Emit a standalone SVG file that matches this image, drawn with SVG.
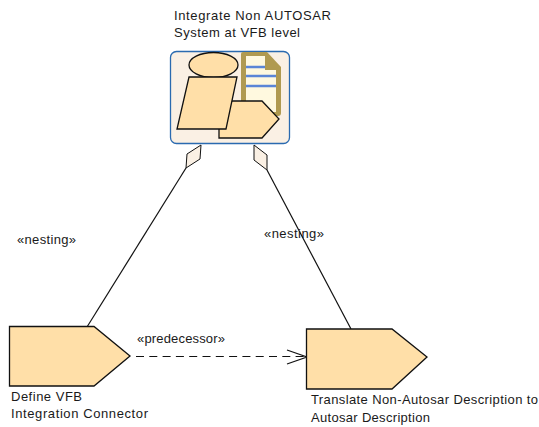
<svg xmlns="http://www.w3.org/2000/svg" width="539" height="427" viewBox="0 0 539 427">
<style>
text{font-family:"Liberation Sans",Arial,sans-serif;font-size:13px;fill:#1a1a1a}
.s{fill:#ffdfa8;stroke:#111;stroke-width:1.3}
.c{fill:none;stroke:#111;stroke-width:1.2}
.d{fill:#faf0e4;stroke:#111;stroke-width:1}
</style>
<rect width="539" height="427" fill="#fff"/>
<g id="connectors">
<path class="c" d="M87 327L186 168"/>
<path class="d" d="M201 145L200 159L186 168L187 154Z"/>
<path class="c" d="M351 329L267 170"/>
<path class="d" d="M254 145L267 155L267 170L254 160Z"/>
<path class="c" d="M136 356.500H306" stroke-dasharray="8 5.300"/>
<path class="c" d="M287 350L307 357L287 364"/>
<text x="17" y="244" textLength="59">«nesting»</text>
<text x="264" y="238" textLength="60">«nesting»</text>
<text x="137" y="343" textLength="88">«predecessor»</text>
</g>
<g id="integrate-non-autosar">
<rect x="170.500" y="51.500" width="119" height="92" rx="6" fill="#faf0e4" stroke="#2a6ab0" stroke-width="1.300"/>
<path d="M243 52H267L281 67V113Q281 116 278 116H243Q241 116 241 114V54Q241 52 243 52Z" fill="#b09a50"/>
<path d="M246 56H265V70H276V112H246Z" fill="#fff9df"/>
<path d="M246 67H265M246 76H276M246 86H276" stroke="#5b86d6" stroke-width="2.400" fill="none"/>
<ellipse class="s" cx="213.500" cy="65" rx="24.500" ry="12.500"/>
<path class="s" d="M219 101H262L279 119L262 138H219Z"/>
<path class="s" d="M189 77H237L226 129H177Z"/>
<text x="174" y="20" textLength="157">Integrate Non AUTOSAR</text>
<text x="174" y="37" textLength="126">System at VFB level</text>
</g>
<g id="define-vfb">
<path class="s" d="M9.500 326.500H94L130 356L94 386H9.500Z"/>
<text x="11" y="401" textLength="71">Define VFB</text>
<text x="11" y="418" textLength="137">Integration Connector</text>
</g>
<g id="translate">
<path class="s" d="M306.500 329H392L427 357L392 389H306.500Z"/>
<text x="311" y="404" textLength="227">Translate Non-Autosar Description to</text>
<text x="311" y="422" textLength="119">Autosar Description</text>
</g>
</svg>
